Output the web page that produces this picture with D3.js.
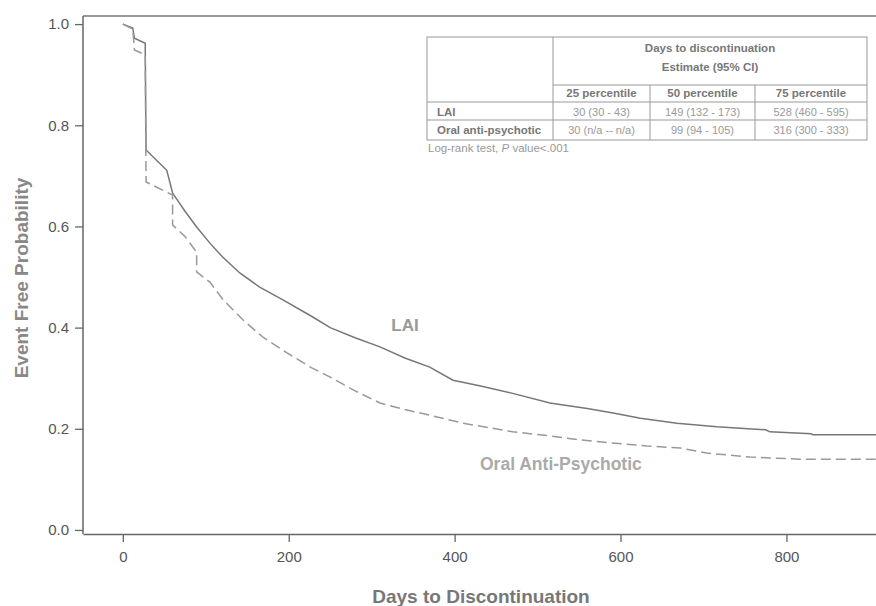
<html>
<head>
<script src="https://d3js.org/d3.v7.min.js"></script>
<style>
  body { margin: 0; background: #fff; }
  text { font-family: "Liberation Sans", Arial, sans-serif; }
</style>
</head>
<body>
<svg width="876" height="606"></svg>
<script>
  // curve points (days, event free probability)
  var laiDays = [0,12,14,27,28,53,60,75,89,105,120,141,165,193,229,250,280,310,340,370,398,430,470,515,531,560,591,624,668,716,775,780,830,832,910];
  var laiProb = [1.0,0.992,0.972,0.962,0.751,0.711,0.666,0.63,0.599,0.567,0.54,0.508,0.48,0.455,0.421,0.40,0.38,0.362,0.34,0.322,0.296,0.285,0.27,0.251,0.247,0.24,0.231,0.221,0.211,0.204,0.198,0.194,0.19,0.188,0.188];
  var oralDays = [0,12,14,27,28,60,60,75,89,89,105,121,145,169,198,226,250,280,310,340,370,410,470,515,551,590,632,672,704,756,817,910];
  var oralProb = [1.0,0.99,0.949,0.939,0.688,0.662,0.603,0.58,0.549,0.51,0.49,0.455,0.415,0.381,0.35,0.322,0.302,0.275,0.251,0.238,0.227,0.211,0.194,0.186,0.178,0.172,0.166,0.162,0.152,0.144,0.14,0.14];

  var xTicks = [0,200,400,600,800];
  var yTicks = [0,0.2,0.4,0.6,0.8,1.0];

  // table contents
  var colHeads = ["25 percentile","50 percentile","75 percentile"];
  var rowHeads = ["LAI","Oral anti-psychotic"];
  var cells = [["30 (30 - 43)","149 (132 - 173)","528 (460 - 595)"],
               ["30 (n/a -- n/a)","99 (94 - 105)","316 (300 - 333)"]];

  var svg = d3.select("svg");
  var pL = 83, pR = 876, pT = 16, pB = 534;

  var x = d3.scaleLinear().domain([-48, 908]).range([pL, pR]);
  var y = d3.scaleLinear().domain([-0.008, 1.016]).range([pB, pT]);

  // frame top line
  svg.append("line").attr("x1", pL).attr("x2", pR).attr("y1", pT).attr("y2", pT)
    .attr("stroke", "#777").attr("stroke-width", 1.5);

  var yAxis = svg.append("g").attr("transform", "translate(" + pL + ",0)")
    .call(d3.axisLeft(y).tickValues(yTicks).tickFormat(d3.format(".1f")).tickSize(8).tickSizeOuter(0).tickPadding(6));
  var xAxis = svg.append("g").attr("transform", "translate(0," + pB + ")")
    .call(d3.axisBottom(x).tickValues(xTicks).tickSize(8).tickSizeOuter(0).tickPadding(9));
  [xAxis, yAxis].forEach(function(a){
    a.select(".domain").attr("stroke", "#666").attr("stroke-width", 1.5);
    a.selectAll(".tick line").attr("stroke", "#666").attr("stroke-width", 1.3);
    a.selectAll(".tick text").attr("fill", "#555").attr("font-size", 15)
      .attr("font-family", "'Liberation Sans', Arial, sans-serif");
  });
  // y domain should extend to top frame
  yAxis.select(".domain").attr("d", "M0," + pT + "V" + pB);

  var line = d3.line().x(function(d){ return x(d[0]); }).y(function(d){ return y(d[1]); });

  svg.append("path").datum(d3.zip(laiDays, laiProb)).attr("d", line)
    .attr("fill", "none").attr("stroke", "#777").attr("stroke-width", 1.5);
  svg.append("path").datum(d3.zip(oralDays, oralProb)).attr("d", line)
    .attr("fill", "none").attr("stroke", "#999").attr("stroke-width", 1.5)
    .attr("stroke-dasharray", "10,5");

  svg.append("text").attr("x", 405).attr("y", 331).attr("text-anchor", "middle")
    .attr("font-size", 17).attr("font-weight", "bold").attr("fill", "#999").text("LAI");
  svg.append("text").attr("x", 480).attr("y", 470)
    .attr("font-size", 17.5).attr("font-weight", "bold").attr("fill", "#aaa").text("Oral Anti-Psychotic");

  // axis titles
  svg.append("text").attr("transform", "translate(28,278) rotate(-90)").attr("text-anchor", "middle")
    .attr("font-size", 19).attr("font-weight", "bold").attr("fill", "#888").text("Event Free Probability");
  svg.append("text").attr("x", 481).attr("y", 603).attr("text-anchor", "middle")
    .attr("font-size", 19).attr("font-weight", "bold").attr("fill", "#777").text("Days to Discontinuation");

  // table
  var tb = svg.append("g");
  var tx = [427, 553, 650, 755, 867];
  var ty = [37, 85, 102, 120, 140];
  tb.append("rect").attr("x", tx[0]).attr("y", ty[0]).attr("width", tx[4] - tx[0]).attr("height", ty[4] - ty[0])
    .attr("fill", "#fff").attr("stroke", "#999").attr("stroke-width", 1);
  tb.append("line").attr("x1", tx[1]).attr("x2", tx[1]).attr("y1", ty[0]).attr("y2", ty[4]).attr("stroke", "#999");
  [2, 3].forEach(function(i){
    tb.append("line").attr("x1", tx[i]).attr("x2", tx[i]).attr("y1", ty[1]).attr("y2", ty[4]).attr("stroke", "#999");
  });
  tb.append("line").attr("x1", tx[1]).attr("x2", tx[4]).attr("y1", ty[1]).attr("y2", ty[1]).attr("stroke", "#999");
  [2, 3].forEach(function(i){
    tb.append("line").attr("x1", tx[0]).attr("x2", tx[4]).attr("y1", ty[i]).attr("y2", ty[i]).attr("stroke", "#999");
  });
  var hx = (tx[1] + tx[4]) / 2;
  tb.append("text").attr("x", hx).attr("y", 52).attr("text-anchor", "middle").attr("font-size", 11.5)
    .attr("font-weight", "bold").attr("fill", "#777").text("Days to discontinuation");
  tb.append("text").attr("x", hx).attr("y", 71).attr("text-anchor", "middle").attr("font-size", 11.5)
    .attr("font-weight", "bold").attr("fill", "#777").text("Estimate (95% CI)");
  colHeads.forEach(function(c, i){
    tb.append("text").attr("x", (tx[i + 1] + tx[i + 2]) / 2).attr("y", 97).attr("text-anchor", "middle")
      .attr("font-size", 11.5).attr("font-weight", "bold").attr("fill", "#777").text(c);
  });
  rowHeads.forEach(function(r, j){
    var by = j === 0 ? 115.5 : 134;
    tb.append("text").attr("x", 437).attr("y", by).attr("font-size", 11.5)
      .attr("font-weight", "bold").attr("fill", "#777").text(r);
    cells[j].forEach(function(c, i){
      tb.append("text").attr("x", (tx[i + 1] + tx[i + 2]) / 2).attr("y", by).attr("text-anchor", "middle")
        .attr("font-size", 11).attr("fill", "#999").text(c);
    });
  });
  var note = tb.append("text").attr("x", 428).attr("y", 152).attr("font-size", 11.5).attr("fill", "#999");
  note.append("tspan").text("Log-rank test, ");
  note.append("tspan").attr("font-style", "italic").text("P");
  note.append("tspan").text(" value<.001");
</script>
</body>
</html>
